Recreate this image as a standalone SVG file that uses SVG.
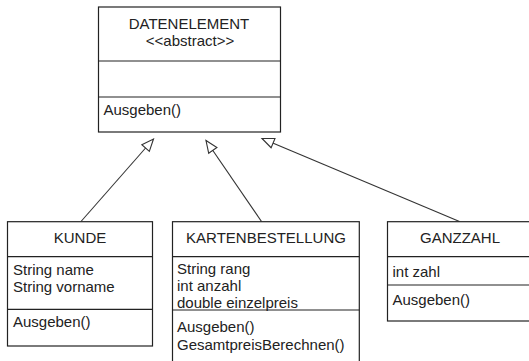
<svg xmlns="http://www.w3.org/2000/svg" width="529" height="361" viewBox="0 0 529 361">
<style>
.box{fill:#fff;stroke:#222;stroke-width:1.2}
.div{stroke:#222;stroke-width:1.2}
text{font-family:"Liberation Sans",Arial,sans-serif;font-size:15px;fill:#222}
.c{text-anchor:middle}
.conn{stroke:#333;stroke-width:1.1;fill:none;marker-end:url(#tri)}
</style>
<defs>
<marker id="tri" markerUnits="userSpaceOnUse" markerWidth="16" markerHeight="14" refX="13" refY="6" orient="auto">
<path d="M1,1 L13,6 L1,11 Z" fill="#fff" stroke="#333" stroke-width="1.1"/>
</marker>
</defs>
<rect width="529" height="361" fill="#fff"/>
<g id="connectors">
<line class="conn" x1="81" y1="221.5" x2="153.5" y2="139"/>
<line class="conn" x1="261.5" y1="221.5" x2="206" y2="140.5"/>
<line class="conn" x1="459.5" y1="221.5" x2="262" y2="138.5"/>
</g>
<g id="datenelement">
<rect class="box" x="98.5" y="7" width="182" height="125"/>
<line class="div" x1="98.5" y1="61" x2="280.5" y2="61"/>
<line class="div" x1="98.5" y1="97" x2="280.5" y2="97"/>
<text class="c" x="189" y="29">DATENELEMENT</text>
<text class="c" x="190" y="45.5">&lt;&lt;abstract&gt;&gt;</text>
<text x="103.5" y="115">Ausgeben()</text>
</g>
<g id="kunde">
<rect class="box" x="7.5" y="221.7" width="145" height="124.3"/>
<line class="div" x1="7.5" y1="256.7" x2="152.5" y2="256.7"/>
<line class="div" x1="7.5" y1="309.3" x2="152.5" y2="309.3"/>
<text class="c" x="80" y="243">KUNDE</text>
<text x="13" y="275">String name</text>
<text x="13" y="291.7">String vorname</text>
<text x="13" y="326.5">Ausgeben()</text>
</g>
<g id="kartenbestellung">
<rect class="box" x="172.5" y="221.7" width="186.8" height="145"/>
<line class="div" x1="172.5" y1="256.7" x2="359.3" y2="256.7"/>
<line class="div" x1="172.5" y1="310" x2="359.3" y2="310"/>
<text class="c" x="266" y="243">KARTENBESTELLUNG</text>
<text x="177" y="274">String rang</text>
<text x="177" y="291">int anzahl</text>
<text x="177" y="308">double einzelpreis</text>
<text x="177" y="332">Ausgeben()</text>
<text x="177" y="350">GesamtpreisBerechnen()</text>
</g>
<g id="ganzzahl">
<rect class="box" x="387.5" y="221.7" width="150" height="99.3"/>
<line class="div" x1="387.5" y1="256.7" x2="537.5" y2="256.7"/>
<line class="div" x1="387.5" y1="285" x2="537.5" y2="285"/>
<text class="c" x="460" y="243">GANZZAHL</text>
<text x="392.5" y="276.5">int zahl</text>
<text x="392.5" y="305">Ausgeben()</text>
</g>
</svg>
